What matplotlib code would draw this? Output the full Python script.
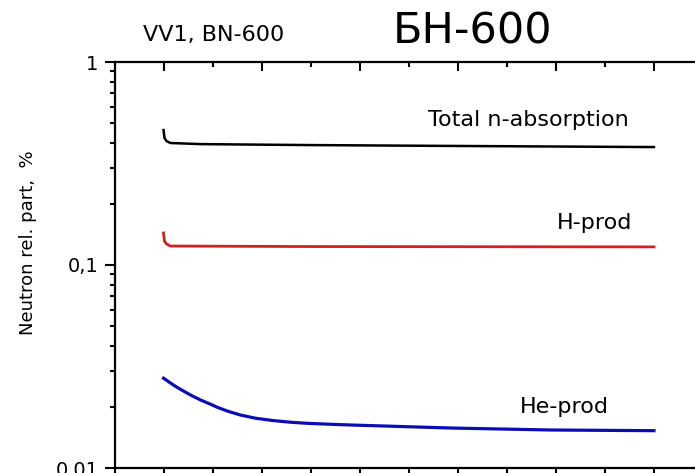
import matplotlib
matplotlib.use("Agg")
import matplotlib.pyplot as plt
from matplotlib.ticker import FixedLocator, LogLocator, FuncFormatter, MultipleLocator

# Irradiation time axis (arbitrary units, ticks every unit)
x_total = [0.0, 0.01, 0.03, 0.07, 0.38, 1.4, 2.92, 5.0]
total_absorption = [0.462, 0.422, 0.408, 0.399, 0.394, 0.390, 0.386, 0.381]

x_h = [0.0, 0.01, 0.03, 0.07, 1.4, 5.0]
h_prod = [0.1438, 0.131, 0.127, 0.124, 0.1233, 0.1228]

x_he = [0.0, 0.071, 0.132, 0.204, 0.275, 0.377, 0.479, 0.550, 0.662,
        0.784, 0.937, 1.120, 1.293, 1.466, 1.701, 1.904, 2.923, 3.941, 5.0]
he_prod = [0.0277, 0.02622, 0.02506, 0.02394, 0.02289, 0.02163, 0.02062,
           0.01989, 0.01900, 0.01824, 0.01759, 0.01712, 0.01681, 0.0166,
           0.01642, 0.01629, 0.01574, 0.01539, 0.01527]

y_decades = [0.01, 0.1, 1.0]
y_decade_labels = ["0,01", "0,1", "1"]

W, H = 695, 473
fig = plt.figure(figsize=(W / 100, H / 100), dpi=100)
plt.rcParams["font.family"] = ["DejaVu Sans"]

left_px, right_px, top_px, bottom_px = 114.5, 703.0, 62.0, 468.0
ax = fig.add_axes([left_px / W, 1 - bottom_px / H,
                   (right_px - left_px) / W, (bottom_px - top_px) / H])

ax.plot(x_total, total_absorption, color="black", lw=1.8, solid_joinstyle="round")
ax.plot(x_h, h_prod, color="#d42020", lw=2.0, solid_joinstyle="round")
ax.plot(x_he, he_prod, color="#0c0cb4", lw=2.3, solid_joinstyle="round")

ax.set_yscale("log")
ax.set_ylim(0.01, 1.0)
ax.set_xlim(-0.5, 5.5)

ax.yaxis.set_major_locator(FixedLocator(y_decades))
ax.yaxis.set_minor_locator(LogLocator(base=10, subs=range(2, 10)))
lab = dict(zip(y_decades, y_decade_labels))
ax.yaxis.set_major_formatter(FuncFormatter(lambda v, p: lab.get(round(v, 4), "")))
ax.yaxis.set_minor_formatter(FuncFormatter(lambda v, p: ""))

ax.xaxis.set_major_locator(MultipleLocator(1.0))
ax.xaxis.set_minor_locator(MultipleLocator(0.5))

for s in ax.spines.values():
    s.set_linewidth(1.6)

ax.tick_params(axis="y", which="major", direction="out", length=7.5, width=1.5,
               labelsize=14, pad=4, left=True, right=False)
ax.tick_params(axis="y", which="minor", direction="out", length=3.8, width=1.5,
               left=True, right=False)
ax.tick_params(axis="x", which="both", bottom=True, top=True, labelbottom=False,
               width=1.5)
ax.tick_params(axis="x", which="major", length=6.5)
ax.tick_params(axis="x", which="minor", length=3.5)
# top ticks point inward, bottom ticks outward
for t in ax.xaxis.get_major_ticks() + ax.xaxis.get_minor_ticks():
    t.tick2line.set_marker(3)

ax.text((428 - 163) / 98.2, 10 ** (-(126 - 62) / 203), "Total n-absorption",
        fontsize=16, ha="left", va="baseline")
ax.text((557 - 163) / 98.2, 10 ** (-(229 - 62) / 203), "H-prod",
        fontsize=16, ha="left", va="baseline")
ax.text((520 - 163) / 98.2, 10 ** (-(413 - 62) / 203), "He-prod",
        fontsize=16, ha="left", va="baseline")

fig.text(143 / W, 1 - 41 / H, "VV1, BN-600", fontsize=16, ha="left", va="baseline")
fig.text(393 / W, 1 - 43 / H, "БН-600", fontsize=31, ha="left", va="baseline")
fig.text(28 / W, 1 - 243 / H, "Neutron rel. part,  %", fontsize=13,
         rotation=90, ha="center", va="center")

fig.savefig("out.png", dpi=100)
